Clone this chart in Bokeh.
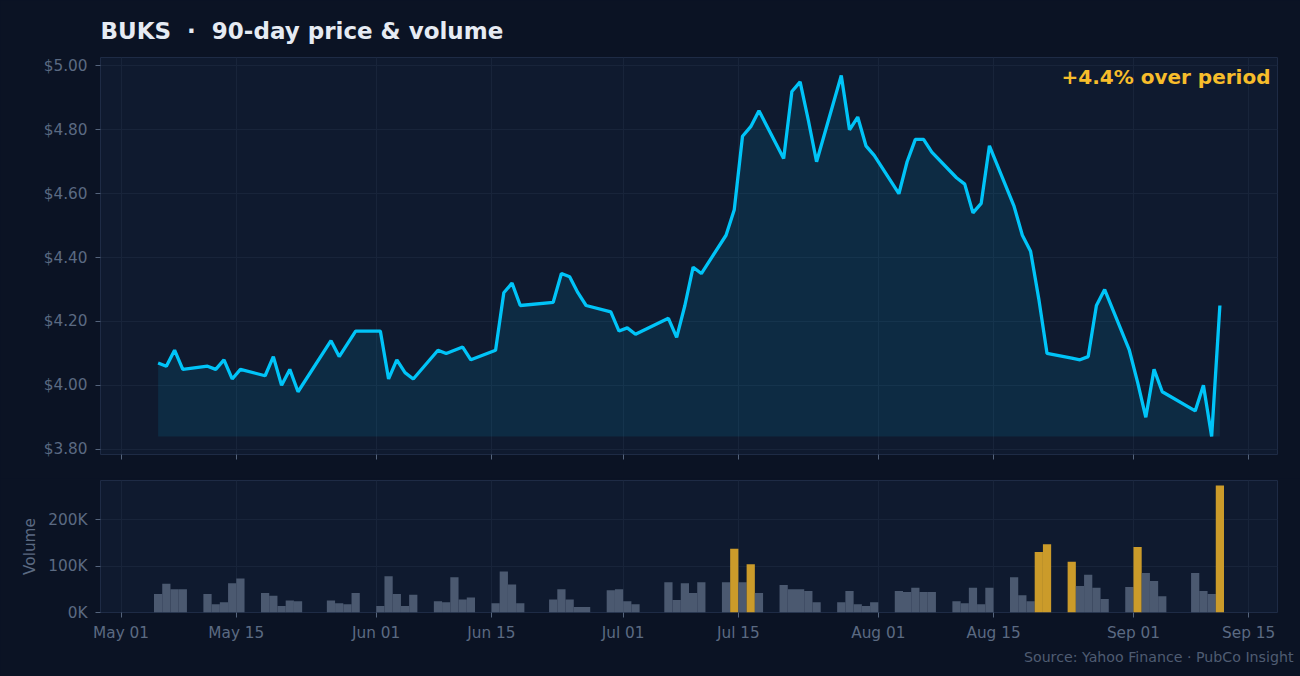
import pandas as pd
from bokeh.plotting import figure
from bokeh.layouts import column
from bokeh.models import (Range1d, FixedTicker, DaysTicker, DatetimeTickFormatter,
                          NumeralTickFormatter, CustomJSTickFormatter, Label, Title)
from bokeh.embed import file_html
from bokeh.resources import INLINE

# ---------------- data ----------------
TICKER = "BUKS"
DATES = [
    "2026-05-05", "2026-05-06", "2026-05-07", "2026-05-08",
    "2026-05-11", "2026-05-12", "2026-05-13", "2026-05-14", "2026-05-15",
    "2026-05-18", "2026-05-19", "2026-05-20", "2026-05-21", "2026-05-22",
    "2026-05-26", "2026-05-27", "2026-05-28", "2026-05-29",
    "2026-06-01", "2026-06-02", "2026-06-03", "2026-06-04", "2026-06-05",
    "2026-06-08", "2026-06-09", "2026-06-10", "2026-06-11", "2026-06-12",
    "2026-06-15", "2026-06-16", "2026-06-17", "2026-06-18",
    "2026-06-22", "2026-06-23", "2026-06-24", "2026-06-25", "2026-06-26",
    "2026-06-29", "2026-06-30", "2026-07-01", "2026-07-02",
    "2026-07-06", "2026-07-07", "2026-07-08", "2026-07-09", "2026-07-10",
    "2026-07-13", "2026-07-14", "2026-07-15", "2026-07-16", "2026-07-17",
    "2026-07-20", "2026-07-21", "2026-07-22", "2026-07-23", "2026-07-24",
    "2026-07-27", "2026-07-28", "2026-07-29", "2026-07-30", "2026-07-31",
    "2026-08-03", "2026-08-04", "2026-08-05", "2026-08-06", "2026-08-07",
    "2026-08-10", "2026-08-11", "2026-08-12", "2026-08-13", "2026-08-14",
    "2026-08-17", "2026-08-18", "2026-08-19", "2026-08-20", "2026-08-21",
    "2026-08-24", "2026-08-25", "2026-08-26", "2026-08-27", "2026-08-28",
    "2026-08-31", "2026-09-01", "2026-09-02", "2026-09-03", "2026-09-04",
    "2026-09-08", "2026-09-09", "2026-09-10", "2026-09-11",
]
CLOSE = [
    4.07, 4.06, 4.11, 4.05,
    4.06, 4.05, 4.08, 4.02, 4.05,
    4.03, 4.09, 4.00, 4.05, 3.98,
    4.14, 4.09, 4.13, 4.17,
    4.17, 4.02, 4.08, 4.04, 4.02,
    4.11, 4.10, 4.11, 4.12, 4.08,
    4.11, 4.29, 4.32, 4.25,
    4.26, 4.35, 4.34, 4.29, 4.25,
    4.23, 4.17, 4.18, 4.16,
    4.21, 4.15, 4.25, 4.37, 4.35,
    4.47, 4.55, 4.78, 4.81, 4.86,
    4.71, 4.92, 4.95, 4.83, 4.70,
    4.97, 4.80, 4.84, 4.75, 4.72,
    4.60, 4.70, 4.77, 4.77, 4.73,
    4.65, 4.63, 4.54, 4.57, 4.75,
    4.56, 4.47, 4.42, 4.27, 4.10,
    4.085, 4.08, 4.09, 4.25, 4.30,
    4.11, 4.01, 3.90, 4.05, 3.98,
    3.92, 4.00, 3.84, 4.25,
]
VOLUME = [
    40000, 62000, 50000, 50000,
    40000, 18000, 22000, 63000, 73000,
    42000, 36000, 14000, 26000, 24000,
    26000, 20000, 18000, 42000,
    14000, 78000, 40000, 14000, 38000,
    24000, 22000, 76000, 28000, 32000,
    20000, 88000, 60000, 20000,
    28000, 50000, 28000, 12000, 12000,
    48000, 50000, 24000, 18000,
    65000, 27000, 63000, 42000, 65000,
    65000, 137000, 65000, 104000, 42000,
    59000, 50000, 50000, 46000, 22000,
    22000, 46000, 18000, 14000, 22000,
    46000, 44000, 53000, 44000, 44000,
    24000, 20000, 53000, 18000, 53000,
    76000, 37000, 24000, 130000, 147000,
    109000, 57000, 81000, 53000, 29000,
    55000, 141000, 85000, 68000, 35000,
    85000, 46000, 40000, 273000,
]
PRICE_TICKS = [3.80, 4.00, 4.20, 4.40, 4.60, 4.80, 5.00]
VOLUME_TICKS = [0, 100000, 200000]
VOLUME_TICK_LABELS = ["0K", "100K", "200K"]
SPIKE_MULTIPLE = 2.0
TITLE = TICKER + "\u00a0\u00a0\u00b7\u00a0\u00a090-day price & volume"
SOURCE = "Source: Yahoo Finance \u00b7 PubCo Insight"

# ---------------- style ----------------
BG_OUTER = "#0b1324"
BG_PLOT = "#0f1a2f"
GRID = "#18243a"
OUTLINE = "#1e2b45"
TICK_LINE = "#55647c"
TICK_TEXT = "#5b6a82"
TITLE_COLOR = "#e6ebf3"
GOLD_TEXT = "#f7bd2b"
SPIKE_COLOR = "#dba62a"
BAR_COLOR = "#505e76"
LINE_COLOR = "#00c4f8"
SOURCE_COLOR = "#4f5c72"
FONT = "DejaVu Sans"

DAY_MS = 86400000
x = pd.to_datetime(DATES) + pd.Timedelta(hours=12)
half = pd.Timedelta(hours=12)
span = (x.max() + half) - (x.min() - half)
pad = span * 0.05
x_range = Range1d(start=x.min() - half - pad, end=x.max() + half + pad)

pmin, pmax = min(CLOSE), max(CLOSE)
ppad = (pmax - pmin) * 0.05
y_range = Range1d(start=pmin - ppad, end=pmax + ppad)


def style_axes(p):
    for ax in p.axis:
        ax.axis_line_color = None
        ax.major_tick_line_color = TICK_LINE
        ax.major_tick_out = 5
        ax.major_tick_in = 0
        ax.minor_tick_line_color = None
        ax.major_label_text_color = TICK_TEXT
        ax.major_label_text_font = FONT
        ax.major_label_text_font_size = "15.3px"
        ax.major_label_standoff = 8
    p.xgrid.grid_line_color = GRID
    p.ygrid.grid_line_color = GRID
    p.xaxis.ticker = DaysTicker(days=[1, 15])
    p.xaxis.formatter = DatetimeTickFormatter(days="%b %d", months="%b %d")


# ---------------- price figure ----------------
p1 = figure(width=1300, height=478, x_axis_type="datetime", x_range=x_range, y_range=y_range,
            output_backend="svg", toolbar_location=None,
            min_border_left=100, min_border_right=23, min_border_top=57, min_border_bottom=24,
            background_fill_color=BG_PLOT, border_fill_color=BG_OUTER,
            outline_line_color=OUTLINE)
p1.varea(x=x, y1=pmin, y2=CLOSE, fill_color=LINE_COLOR, fill_alpha=0.1)
p1.line(x=x, y=CLOSE, line_color=LINE_COLOR, line_width=3.3)
style_axes(p1)
p1.yaxis.ticker = FixedTicker(ticks=PRICE_TICKS)
p1.yaxis.formatter = NumeralTickFormatter(format="$0.00")
# top panel shows only tick marks on its date axis; labels live on the volume panel
p1.xaxis.formatter = CustomJSTickFormatter(code="return ''")
p1.xaxis.major_label_standoff = 0

p1.title.text = TITLE
p1.title.text_font = FONT
p1.title.text_font_size = "23px"
p1.title.text_font_style = "bold"
p1.title.text_color = TITLE_COLOR
p1.title.align = "left"
p1.title.offset = 0
p1.title.standoff = 27

change = (CLOSE[-1] / CLOSE[0] - 1) * 100
p1.add_layout(Label(x=x_range.end.timestamp() * 1000, y=y_range.end, x_offset=-7, y_offset=-19,
                    text=f"{change:+.1f}% over period", text_align="right", text_baseline="middle",
                    text_font=FONT, text_font_size="20px", text_font_style="bold",
                    text_color=GOLD_TEXT))

# ---------------- volume figure ----------------
mean_vol = sum(VOLUME) / len(VOLUME)
bar_colors = [SPIKE_COLOR if v > SPIKE_MULTIPLE * mean_vol else BAR_COLOR for v in VOLUME]

p2 = figure(width=1300, height=198, x_axis_type="datetime", x_range=x_range,
            y_range=Range1d(start=0, end=max(VOLUME) * 1.04),
            output_backend="svg", toolbar_location=None,
            min_border_left=100, min_border_right=23, min_border_top=2, min_border_bottom=64,
            background_fill_color=BG_PLOT, border_fill_color=BG_OUTER,
            outline_line_color=OUTLINE)
p2.vbar(x=x, top=VOLUME, width=DAY_MS, fill_color=bar_colors, fill_alpha=0.92, line_color=None)
style_axes(p2)
p2.xaxis.major_label_standoff = 6
p2.yaxis.ticker = FixedTicker(ticks=VOLUME_TICKS)
p2.yaxis.major_label_overrides = dict(zip(VOLUME_TICKS, VOLUME_TICK_LABELS))
p2.yaxis.axis_label = "Volume"
p2.yaxis.axis_label_text_font = FONT
p2.yaxis.axis_label_text_font_size = "15.3px"
p2.yaxis.axis_label_text_font_style = "normal"
p2.yaxis.axis_label_text_color = TICK_TEXT
p2.yaxis.axis_label_standoff = 6

p2.add_layout(Title(text=SOURCE, align="right", text_font=FONT, text_font_size="14.2px",
                    text_font_style="normal", text_color=SOURCE_COLOR, offset=-16, standoff=5),
              "below")

layout = column(p1, p2, spacing=0)
layout.styles = {"background-color": BG_OUTER}

template = """{% block preamble %}<style>html, body { background: #0b1324; }</style>{% endblock %}"""
open("out.html", "w").write(file_html(layout, INLINE, template=template))
